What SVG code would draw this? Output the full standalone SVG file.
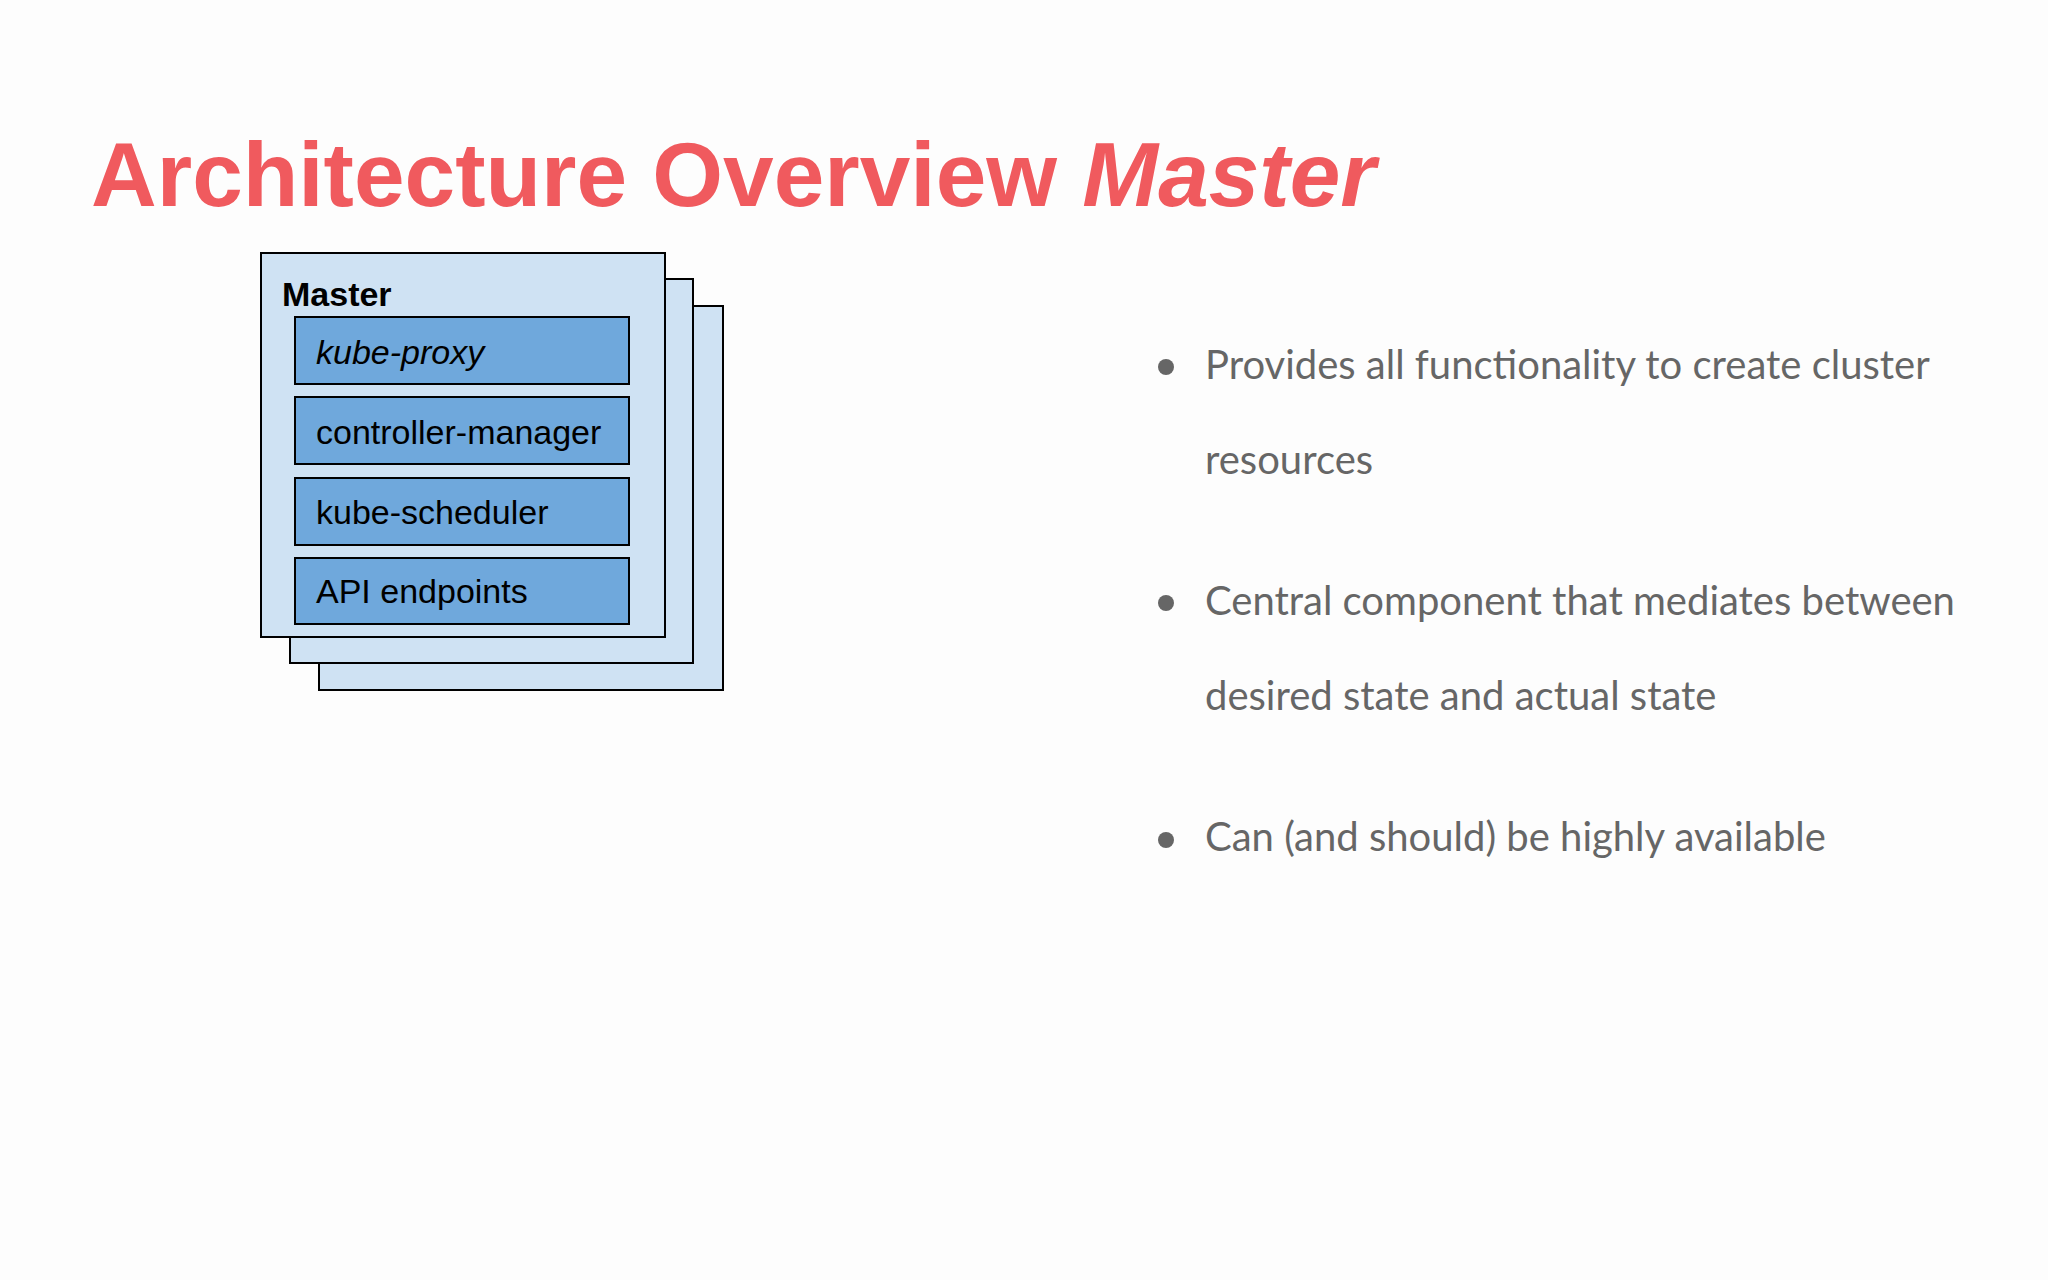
<svg xmlns="http://www.w3.org/2000/svg" width="2048" height="1280" viewBox="0 0 2048 1280">
<style>
.st{fill:#cfe2f3;stroke:#000;stroke-width:2}
.comp{fill:#6fa8dc;stroke:#000;stroke-width:2}
.ct{font-family:"Liberation Sans",Arial,sans-serif;font-size:34px;fill:#000}
.bt{font-family:Lato,"Open Sans",sans-serif;font-size:40px;fill:#666}
</style>
<rect width="2048" height="1280" fill="#fdfdfd"/>
<text x="91" y="206" font-family="Liberation Sans,Arial,sans-serif" font-weight="bold" font-size="91" fill="#f05a5e">Architecture Overview <tspan font-style="italic">Master</tspan></text>
<g id="master">
<rect class="st" x="319" y="306" width="404" height="384"/>
<rect class="st" x="290" y="279" width="403" height="384"/>
<rect class="st" x="261" y="253" width="404" height="384"/>
<text x="282" y="306" class="ct" font-weight="bold">Master</text>
</g>
<g id="kube-proxy"><rect class="comp" x="295" y="317" width="334" height="67"/><text x="316" y="364" class="ct" font-style="italic">kube-proxy</text></g>
<g id="controller-manager"><rect class="comp" x="295" y="397" width="334" height="67"/><text x="316" y="444" class="ct">controller-manager</text></g>
<g id="kube-scheduler"><rect class="comp" x="295" y="478" width="334" height="67"/><text x="316" y="524" class="ct">kube-scheduler</text></g>
<g id="api-endpoints"><rect class="comp" x="295" y="558" width="334" height="66"/><text x="316" y="603" class="ct">API endpoints</text></g>
<g id="connectors"/>
<g id="bullets" fill="#666">
<circle cx="1166" cy="367" r="8"/>
<circle cx="1166" cy="603" r="8"/>
<circle cx="1166" cy="840" r="8"/>
<text x="1205" y="379" class="bt">Provides all functionality to create cluster</text>
<text x="1205" y="474" class="bt">resources</text>
<text x="1205" y="615" class="bt">Central component that mediates between</text>
<text x="1205" y="710" class="bt">desired state and actual state</text>
<text x="1205" y="851" class="bt">Can (and should) be highly available</text>
</g>
</svg>
